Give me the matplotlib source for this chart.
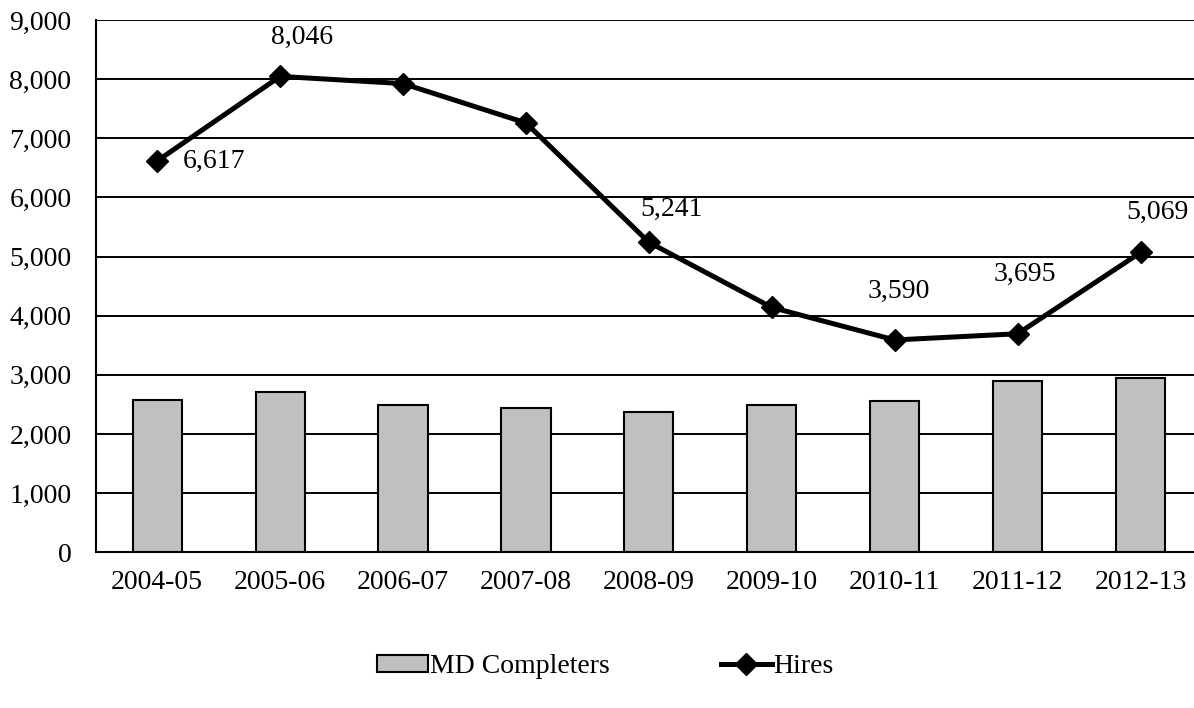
import matplotlib.pyplot as plt
from matplotlib.ticker import FuncFormatter

plt.rcParams['font.family'] = ['Liberation Serif', 'DejaVu Serif']

# data
years = ['2004-05', '2005-06', '2006-07', '2007-08', '2008-09',
         '2009-10', '2010-11', '2011-12', '2012-13']
md_completers = [2577, 2717, 2497, 2436, 2374, 2492, 2555, 2893, 2954]
hires = [6617, 8046, 7924, 7259, 5241, 4140, 3590, 3695, 5069]
labelled = [0, 1, 4, 6, 7, 8]
# label offsets (points) relative to the marker
label_offsets = {0: (41, 0), 1: (16, 28), 4: (16, 24), 6: (3, 35), 7: (5, 43), 8: (12, 29)}

fig = plt.figure(figsize=(11.94, 7.08), dpi=100)
ax = fig.add_axes([0.0802, 0.2199, 0.9265, 0.7519])

x = range(len(years))
bars = ax.bar(x, md_completers, width=0.4, color='#c0c0c0', edgecolor='black',
              linewidth=1.5, label='MD Completers', zorder=2)
line, = ax.plot(x, hires, color='black', linewidth=3.6, marker='D', markersize=11.5,
                label='Hires', zorder=3)

for i in labelled:
    ax.annotate(f'{hires[i]:,}', xy=(i, hires[i]), xytext=label_offsets[i],
                textcoords='offset points', ha='center', va='center', fontsize=20)

ax.set_xlim(-0.5, len(years) - 0.5)
ax.set_ylim(0, 9000)
ax.set_yticks(range(0, 9001, 1000))
ax.yaxis.set_major_formatter(FuncFormatter(lambda v, p: f'{int(v):,}'))
ax.set_xticks(list(x))
ax.set_xticklabels(years)
ax.tick_params(axis='both', length=0, labelsize=20)
ax.tick_params(axis='y', pad=17.5)
ax.tick_params(axis='x', pad=13)
ax.grid(axis='y', color='black', linewidth=1.4, zorder=0)
ax.set_axisbelow(True)
for s in ['top', 'right']:
    ax.spines[s].set_visible(False)
for s in ['left', 'bottom']:
    ax.spines[s].set_linewidth(1.5)

fig.legend([bars, line], ['MD Completers', 'Hires'], loc='center',
           bbox_to_anchor=(0.507, 0.058), ncol=2, frameon=False,
           fontsize=20, handlelength=1.85, handleheight=0.55, handletextpad=0.05,
           columnspacing=4.0)

fig.savefig('out.png', dpi=100)
